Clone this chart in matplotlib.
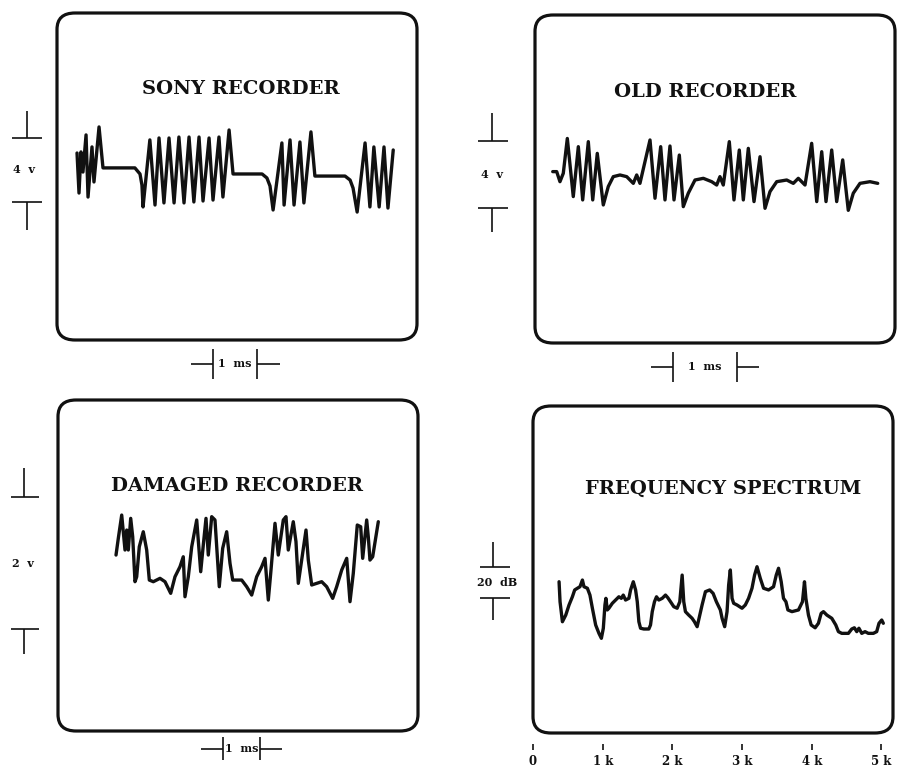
"""Four oscilloscope screens: recorder test traces and frequency spectrum."""

import matplotlib
matplotlib.use("Agg")
import matplotlib.pyplot as plt
from matplotlib.patches import FancyBboxPatch
from matplotlib.transforms import blended_transform_factory

# ── Trace data ───────────────────────────────────────────────────────────────
# time in ms, amplitude in volts (spectrum: frequency in kHz, level in dB)

SONY_T = [0.455, 0.50, 0.545, 0.59, 0.66, 0.705, 0.795, 0.84, 0.955, 1.045,
          1.77, 1.886, 1.93, 1.955,
          2.11, 2.227, 2.318, 2.43, 2.545, 2.66, 2.77, 2.886, 3.0, 3.11,
          3.227, 3.318, 3.455, 3.545, 3.68, 3.77, 3.91,
          4.0, 4.66, 4.77, 4.84, 4.91,
          5.11, 5.16, 5.295, 5.386, 5.52, 5.61, 5.77,
          5.86, 6.545, 6.66, 6.727, 6.82,
          7.0, 7.11, 7.2, 7.32, 7.43, 7.52, 7.64]
SONY_V = [1.06, -1.44, 1.13, -0.13, 2.19, -1.69, 1.44, -0.75, 2.69, 0.13,
          0.13, -0.25, -0.94, -2.31,
          1.88, -2.19, 2.0, -2.06, 2.0, -2.06, 2.06, -2.06, 2.06, -2.0,
          2.06, -1.94, 2.0, -1.88, 2.06, -1.69, 2.5,
          -0.25, -0.25, -0.5, -1.0, -2.5,
          1.69, -2.19, 1.88, -2.19, 1.75, -2.06, 2.38,
          -0.38, -0.38, -0.63, -1.13, -2.63,
          1.69, -2.31, 1.44, -2.31, 1.44, -2.38, 1.25]

OLD_T = [0.277, 0.339, 0.39, 0.442, 0.505, 0.598, 0.677, 0.745, 0.833, 0.902,
         0.973, 1.067, 1.145, 1.223, 1.328, 1.433, 1.536, 1.589, 1.64, 1.797,
         1.875, 1.964, 2.031, 2.109, 2.172, 2.255, 2.317, 2.395, 2.5, 2.63,
         2.761, 2.839, 2.89, 2.942, 3.036, 3.109, 3.192, 3.255, 3.333, 3.422,
         3.516, 3.594, 3.672, 3.777, 3.933, 4.036, 4.114, 4.219, 4.323, 4.402,
         4.48, 4.547, 4.636, 4.714, 4.808, 4.895, 4.973, 5.078, 5.234, 5.355]
OLD_V = [0.17, 0.17, -0.43, 0.07, 2.15, -1.32, 1.66, -1.52, 1.96, -1.52,
         1.26, -1.82, -0.72, -0.13, -0.03, -0.13, -0.53, -0.03, -0.53, 2.06,
         -1.42, 1.66, -1.52, 1.70, -1.52, 1.16, -1.92, -1.12, -0.33, -0.23,
         -0.43, -0.63, -0.13, -0.63, 1.96, -1.52, 1.46, -1.52, 1.56, -1.62,
         1.06, -2.02, -1.02, -0.43, -0.33, -0.53, -0.23, -0.63, 1.86, -1.62,
         1.36, -1.62, 1.46, -1.62, 0.87, -2.14, -1.12, -0.53, -0.43, -0.53]

DMG_T = [1.568, 1.630, 1.722, 1.811, 1.857, 1.900, 1.965, 2.019, 2.081, 2.127,
         2.197, 2.305, 2.397, 2.468, 2.576, 2.757, 2.892, 3.046, 3.162, 3.297,
         3.386, 3.432, 3.522, 3.614, 3.749, 3.857, 3.927, 4.0, 4.062, 4.154,
         4.243, 4.359, 4.451, 4.559, 4.649, 4.722, 4.830, 4.965, 5.1, 5.235,
         5.370, 5.505, 5.595, 5.684, 5.749, 5.865, 5.954, 6.089, 6.162, 6.224,
         6.359, 6.432, 6.495, 6.703, 6.765, 6.857, 6.992, 7.127, 7.262, 7.424,
         7.532, 7.668, 7.803, 7.892, 7.981, 8.089, 8.181, 8.235, 8.343, 8.386,
         8.432, 8.505, 8.657]
DMG_V = [0.121, 0.374, 0.727, 0.197, 0.5, 0.197, 0.677, 0.398, -0.283, -0.208,
         0.247, 0.474, 0.197, -0.258, -0.283, -0.232, -0.283, -0.459, -0.208, -0.056,
         0.095, -0.511, -0.208, 0.247, 0.652, -0.132, 0.273, 0.677, 0.121, 0.702,
         0.652, -0.359, 0.223, 0.474, -0.005, -0.258, -0.258, -0.258, -0.359, -0.485,
         -0.208, -0.056, 0.071, -0.561, -0.156, 0.602, 0.121, 0.652, 0.702, 0.197,
         0.626, 0.323, -0.308, 0.5, 0.045, -0.333, -0.308, -0.283, -0.359, -0.535,
         -0.359, -0.106, 0.071, -0.586, -0.156, 0.576, 0.550, 0.071, 0.652, 0.398,
         0.045, 0.095, 0.626]

SPEC_F = [0.374, 0.388, 0.422, 0.470, 0.517, 0.565, 0.598, 0.637, 0.674, 0.709,
          0.731, 0.780, 0.817, 0.852, 0.899, 0.946, 0.981, 1.009, 1.032, 1.046,
          1.066, 1.089, 1.138, 1.185, 1.232, 1.267, 1.295, 1.328, 1.376, 1.400,
          1.439, 1.472, 1.496, 1.519, 1.543, 1.590, 1.662, 1.686, 1.711, 1.743,
          1.772, 1.805, 1.854, 1.901, 1.934, 1.973, 2.020, 2.068, 2.106, 2.140,
          2.163, 2.187, 2.234, 2.283, 2.316, 2.355, 2.426, 2.474, 2.535, 2.584,
          2.631, 2.688, 2.713, 2.750, 2.784, 2.807, 2.831, 2.856, 2.879, 2.927,
          2.999, 3.046, 3.093, 3.142, 3.179, 3.214, 3.261, 3.308, 3.380, 3.451,
          3.490, 3.523, 3.561, 3.594, 3.629, 3.657, 3.715, 3.809, 3.866, 3.895,
          3.915, 3.952, 3.991, 4.048, 4.095, 4.134, 4.167, 4.216, 4.287, 4.344,
          4.382, 4.430, 4.525, 4.573, 4.611, 4.645, 4.676, 4.717, 4.764, 4.811,
          4.883, 4.931, 4.964, 5.003, 5.026]
SPEC_DB = [10.5, -2.4, -15.3, -11.0, -4.5, 0.8, 5.2, 6.3, 7.3, 11.6,
           7.3, 6.3, 1.9, -6.6, -17.4, -22.8, -26.0, -19.5, -4.5, -0.2,
           -7.7, -6.6, -3.4, -1.3, 0.8, -0.2, 1.9, -1.3, -0.2, 5.2,
           10.5, 5.2, -2.4, -15.3, -19.5, -20.0, -20.0, -17.4, -8.8, -2.4,
           0.8, -1.3, -0.2, 1.9, 0.2, -2.4, -5.6, -6.6, -2.4, 14.8,
           -2.4, -8.8, -11.0, -13.1, -15.3, -18.5, -4.5, 4.1, 5.2, 3.0,
           -2.4, -7.7, -13.1, -18.5, -8.8, 8.4, 18.1, -0.2, -3.4, -4.5,
           -6.6, -4.5, -0.2, 6.3, 14.8, 20.2, 12.7, 6.3, 5.2, 7.3,
           14.8, 19.2, 10.5, -0.2, -2.4, -7.7, -8.8, -7.7, -2.4, 10.5,
           -0.2, -11.0, -17.4, -19.2, -16.3, -9.9, -8.8, -11.0, -13.1, -17.4,
           -21.7, -22.8, -22.8, -20.0, -19.2, -21.7, -19.5, -22.8, -21.7, -22.8,
           -22.8, -21.7, -16.3, -14.2, -16.3]

FREQ_TICKS = [0, 1, 2, 3, 4, 5]
FREQ_LABELS = ["0", "1 k", "2 k", "3 k", "4 k", "5 k"]

INK = "#111111"
SERIF = ["DejaVu Serif"]
W, H = 898, 767


def make_screen(fig, px_box, xlim, ylim, title, title_xy):
    """Axes placed on a pixel box, with the rounded screen outline and title."""
    left, top, right, bottom = px_box
    ax = fig.add_axes([left / W, 1 - bottom / H, (right - left) / W, (bottom - top) / H])
    ax.set_xlim(xlim)
    ax.set_ylim(ylim)
    for s in ax.spines.values():
        s.set_visible(False)
    ax.set_xticks([])
    ax.set_yticks([])
    ax.patch.set_visible(False)
    box = FancyBboxPatch((0, 0), 1, 1, boxstyle="round,pad=0,rounding_size=0.05",
                         transform=ax.transAxes, fill=False, ec=INK, lw=2.3, clip_on=False)
    ax.add_patch(box)
    ax.text(title_xy[0], title_xy[1], title, transform=ax.transAxes, ha="center", va="center",
            fontsize=14, fontweight="bold", family=SERIF, color=INK)
    return ax


def volt_bar(ax, span, label, mid, x0, x1, xs, stem_top, stem_bot, label_x):
    """Vertical scale marker left of the screen: two T bars span apart."""
    tr = blended_transform_factory(ax.transAxes, ax.transData)
    y0, y1 = ax.get_ylim()
    h = y1 - y0
    hi, lo = mid + span / 2, mid - span / 2
    kw = dict(transform=tr, color=INK, lw=1.2, clip_on=False, solid_capstyle="butt")
    ax.plot([x0, x1], [hi, hi], **kw)
    ax.plot([xs, xs], [hi, hi + stem_top * h], **kw)
    ax.plot([x0, x1], [lo, lo], **kw)
    ax.plot([xs, xs], [lo, lo - stem_bot * h], **kw)
    ax.text(label_x, mid, label, transform=tr, ha="center", va="center",
            fontsize=8, fontweight="bold", family=SERIF, color=INK)


def time_bar(ax, t0, y, half, arm=0.062):
    """Horizontal 1 ms marker under the screen."""
    tr = blended_transform_factory(ax.transData, ax.transAxes)
    x0, x1 = ax.get_xlim()
    a = arm * (x1 - x0)
    kw = dict(transform=tr, color=INK, lw=1.2, clip_on=False, solid_capstyle="butt")
    ax.plot([t0 - a, t0], [y, y], **kw)
    ax.plot([t0 + 1, t0 + 1 + a], [y, y], **kw)
    ax.plot([t0, t0], [y - half, y + half], **kw)
    ax.plot([t0 + 1, t0 + 1], [y - half, y + half], **kw)
    ax.text(t0 + 0.5, y, "1  ms", transform=tr, ha="center", va="center",
            fontsize=8, fontweight="bold", family=SERIF, color=INK)


def trace(ax, x, y):
    ax.plot(x, y, color=INK, lw=2.4, solid_joinstyle="round", solid_capstyle="round",
            clip_on=False)


def main():
    fig = plt.figure(figsize=(W / 100, H / 100), dpi=100)
    fig.patch.set_facecolor("white")

    # Sony recorder
    ax = make_screen(fig, (57, 13, 417, 340), (0, 8.18), (-10.625, 9.81),
                     "SONY RECORDER", (0.511, 0.768))
    trace(ax, SONY_T, SONY_V)
    volt_bar(ax, 4, "4  v", 0.0, -0.125, -0.042, -0.083, 0.083, 0.085, -0.092)
    time_bar(ax, 3.55, -0.073, 0.046)

    # Old recorder
    ax = make_screen(fig, (535, 15, 895, 343), (0, 5.625), (-10.06, 9.52),
                     "OLD RECORDER", (0.472, 0.765))
    trace(ax, OLD_T, OLD_V)
    volt_bar(ax, 4, "4  v", 0.0, -0.158, -0.075, -0.119, 0.085, 0.073, -0.119)
    time_bar(ax, 2.156, -0.073, 0.047)

    # Damaged recorder
    ax = make_screen(fig, (58, 400, 418, 731), (0, 9.73), (-2.545, 2.47),
                     "DAMAGED RECORDER", (0.497, 0.740))
    trace(ax, DMG_T, DMG_V)
    volt_bar(ax, 2, "2  v", 0.0, -0.131, -0.053, -0.094, 0.088, 0.076, -0.097)
    time_bar(ax, 4.46, -0.054, 0.035)

    # Frequency spectrum
    ax = make_screen(fig, (533, 406, 893, 733), (0.011, 5.165), (-87.1, 123.9),
                     "FREQUENCY SPECTRUM", (0.528, 0.746))
    trace(ax, SPEC_F, SPEC_DB)
    volt_bar(ax, 20, "20  dB", 10.0, -0.147, -0.064, -0.111, 0.076, 0.067, -0.1)
    ax.spines["bottom"].set_position(("outward", 10))
    ax.set_xticks(FREQ_TICKS)
    ax.set_xticklabels(FREQ_LABELS, fontsize=8.5, fontweight="bold", family=SERIF, color=INK)
    ax.tick_params(axis="x", direction="inout", length=5, width=1.2, color=INK, pad=3.5)

    fig.savefig("out.png", dpi=100, facecolor="white")
    plt.close(fig)


if __name__ == "__main__":
    main()
